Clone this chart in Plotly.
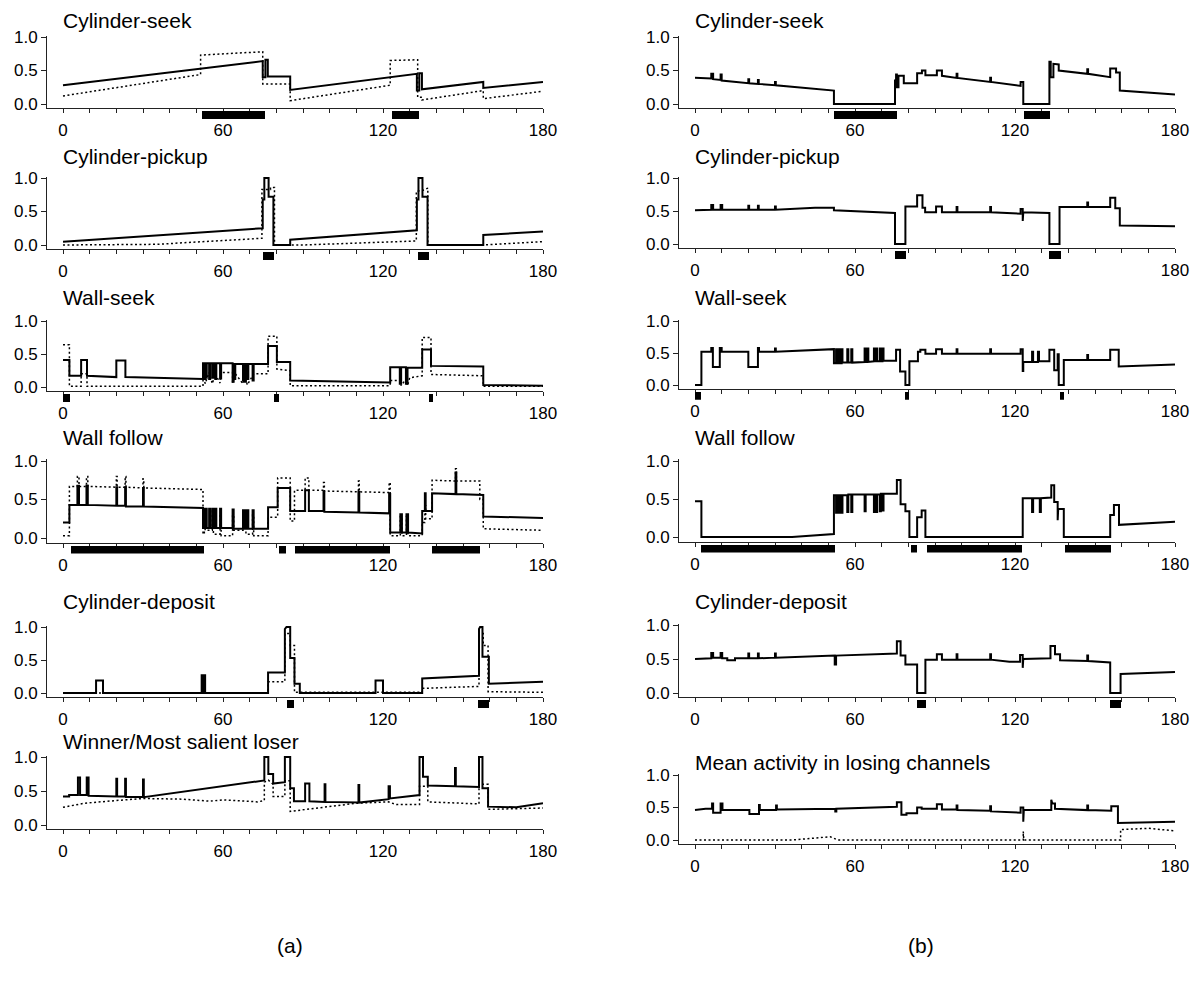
import plotly.graph_objects as go

# ---------------- data (time in s, activity 0..1) ----------------
titles_a = ["Cylinder-seek", "Cylinder-pickup", "Wall-seek", "Wall follow",
            "Cylinder-deposit", "Winner/Most salient loser"]
titles_b = ["Cylinder-seek", "Cylinder-pickup", "Wall-seek", "Wall follow",
            "Cylinder-deposit", "Mean activity in losing channels"]
x_ticks = list(range(0, 181, 10))
x_tick_labels = ["0" if t == 0 else str(t) if t % 60 == 0 else "" for t in x_ticks]
y_ticks = [0.0, 0.5, 1.0]
y_tick_labels = ["0.0", "0.5", "1.0"]

cs_a_solid = [(0,0.28),(74.9,0.64),(74.9,0.40),(75.9,0.40),(75.9,0.66),(76.8,0.66),(76.8,0.41),(85.2,0.41),(85.2,0.21),
              (132.7,0.45),(132.7,0.20),(133.6,0.20),(133.6,0.46),(134.6,0.46),(134.6,0.22),(157.6,0.33),(157.6,0.24),(180,0.33)]
cs_a_dot = [(0,0.12),(51.6,0.44),(51.6,0.73),(74.9,0.78),(74.9,0.30),(85.2,0.30),(85.2,0.05),(122.7,0.28),(122.7,0.65),
            (133,0.66),(133,0.10),(134.6,0.10),(134.6,0.06),(157.6,0.20),(157.6,0.08),(180,0.19)]
cs_a_bars = [(52.3,75.9),(123.4,133.4)]

cp_a_solid = [(0,0.05),(74.9,0.25),(74.9,0.68),(75.5,0.68),(75.5,1.0),(77.1,1.0),(77.1,0.72),(78.9,0.72),(78.9,0.0),
              (85.2,0.0),(85.2,0.08),(132.7,0.22),(132.7,0.68),(133.3,0.68),(133.3,1.0),(134.8,1.0),(134.8,0.72),
              (136.7,0.72),(136.7,0.0),(157.6,0.0),(157.6,0.15),(180,0.20)]
cp_a_dot = [(0,0.0),(35,0.01),(74.6,0.10),(74.6,0.83),(77.8,0.83),(77.8,0.86),(79.3,0.86),(79.3,0.0),(90,0.0),
            (132.5,0.06),(132.5,0.80),(135.5,0.82),(136.8,0.85),(136.8,0.0),(157,0.0),(180,0.05)]
cp_a_bars = [(75.1,79.3),(133.0,137.4)]

ws_a_solid = [(0,0.41),(2.4,0.41),(2.4,0.17),(6.8,0.17),(6.8,0.41),(9,0.41),(9,0.17),(20,0.15),(20,0.40),(23.4,0.40),
              (23.4,0.15),(52.5,0.12),(52.5,0.36),(53.0,0.36),(53.0,0.12),(53.3,0.12),(53.3,0.36),(53.6,0.36),(53.6,0.14),
              (53.9,0.14),(53.9,0.36),(54.8,0.36),(54.8,0.12),(55.2,0.12),(55.2,0.36),(56.0,0.36),(56.0,0.14),(56.4,0.14),
              (56.4,0.36),(57.1,0.36),(57.1,0.12),(57.5,0.12),(57.5,0.36),(58.9,0.36),(58.9,0.13),(59.3,0.13),(59.3,0.36),
              (63.6,0.36),(63.6,0.08),(64.0,0.08),(64.0,0.35),(64.2,0.35),(64.2,0.12),(64.6,0.12),(64.6,0.35),(67.5,0.35),
              (67.5,0.10),(67.9,0.10),(67.9,0.35),(68.2,0.35),(68.2,0.08),(68.6,0.08),(68.6,0.35),(69.1,0.35),(69.1,0.12),
              (69.5,0.12),(69.5,0.35),(71.1,0.35),(71.1,0.10),(71.5,0.10),(71.5,0.35),(76.9,0.35),(76.9,0.62),(80.2,0.62),
              (80.2,0.38),(85.2,0.38),(85.2,0.10),(122.7,0.07),(122.7,0.30),(126.3,0.30),(126.3,0.05),(126.8,0.05),
              (126.8,0.30),(128.6,0.30),(128.6,0.05),(129.2,0.05),(129.2,0.29),(134.7,0.29),(134.7,0.57),(138,0.57),
              (138,0.32),(157.6,0.31),(157.6,0.03),(180,0.02)]
ws_a_dot = [(0,0.64),(2.4,0.64),(2.4,0.01),(6.8,0.01),(6.8,0.2),(9,0.2),(9,0.01),(52.5,0.01),(52.5,0.25),(53.3,0.05),
            (54.8,0.22),(56,0.05),(57.1,0.2),(58.9,0.06),(59.3,0.22),(63.6,0.22),(63.6,0.05),(64.6,0.2),(67.5,0.05),
            (68.2,0.2),(69.1,0.03),(71.5,0.2),(76.9,0.2),(76.9,0.77),(80.2,0.77),(80.2,0.27),(85.2,0.25),(85.2,0.02),
            (122.7,0.02),(122.7,0.1),(126.3,0.1),(126.8,0.02),(128.6,0.12),(129.2,0.02),(130,0.14),(134.7,0.17),
            (134.7,0.75),(138,0.75),(138,0.19),(157.6,0.17),(157.6,0.01),(180,0.01)]
ws_a_bars = [(0.1,2.8),(79.0,80.9),(137.2,138.7)]

wf_a_solid = [(0,0.2),(2.4,0.2),(2.4,0.43),(5.4,0.43),(5.4,0.68),(6.0,0.68),(6.0,0.43),(8.8,0.43),(8.8,0.68),(9.3,0.68),
              (9.3,0.43),(20,0.42),(20,0.66),(20.3,0.66),(20.3,0.42),(23.3,0.42),(23.3,0.66),(23.6,0.66),(23.6,0.41),
              (30,0.41),(30,0.65),(30.3,0.65),(30.3,0.41),(52.5,0.39),(52.5,0.13),(53.0,0.13),(53.0,0.38),(53.3,0.38),
              (53.3,0.13),(53.6,0.13),(53.6,0.38),(53.9,0.38),(53.9,0.13),(54.8,0.13),(54.8,0.38),(55.2,0.38),(55.2,0.13),
              (56.0,0.13),(56.0,0.38),(56.4,0.38),(56.4,0.13),(57.1,0.13),(57.1,0.38),(57.5,0.38),(57.5,0.13),(58.9,0.13),
              (58.9,0.38),(59.3,0.38),(59.3,0.13),(63.6,0.13),(63.6,0.37),(64.0,0.37),(64.0,0.12),(67.5,0.12),(67.5,0.36),
              (67.9,0.36),(67.9,0.12),(68.2,0.12),(68.2,0.36),(68.6,0.36),(68.6,0.12),(69.1,0.12),(69.1,0.36),(69.5,0.36),
              (69.5,0.12),(71.1,0.12),(71.1,0.36),(71.5,0.36),(71.5,0.12),(76.9,0.12),(76.9,0.40),(80.5,0.40),(80.5,0.65),
              (85.2,0.65),(85.2,0.35),(90.8,0.35),(90.8,0.62),(92.2,0.62),(92.2,0.35),(97.7,0.35),(97.7,0.6),(98,0.6),
              (98,0.34),(110.8,0.33),(110.8,0.60),(111.1,0.60),(111.1,0.33),(122.3,0.32),(122.3,0.57),(122.7,0.57),
              (122.7,0.07),(126.5,0.07),(126.5,0.31),(127.1,0.31),(127.1,0.07),(128.8,0.07),(128.8,0.31),(129.4,0.31),
              (129.4,0.07),(134.7,0.06),(134.7,0.35),(135.7,0.35),(135.7,0.58),(136,0.58),(136,0.35),(138.4,0.35),
              (138.4,0.58),(147.2,0.57),(147.2,0.85),(147.5,0.85),(147.5,0.57),(157.6,0.56),(157.6,0.28),(180,0.26)]
wf_a_dot = [(0,0.03),(2.4,0.03),(2.4,0.67),(5.4,0.67),(5.4,0.8),(6.0,0.8),(6.0,0.67),(8.8,0.67),(8.8,0.8),(9.3,0.8),
            (9.3,0.67),(20,0.66),(20,0.8),(20.3,0.8),(20.3,0.66),(23.3,0.66),(23.3,0.8),(23.6,0.8),(23.6,0.66),(30,0.65),
            (30,0.77),(30.3,0.77),(30.3,0.65),(52.5,0.63),(52.5,0.05),(53.0,0.05),(53.0,0.35),(53.3,0.35),(53.3,0.1),
            (56.0,0.1),(56.0,0.35),(56.4,0.35),(56.4,0.05),(58.9,0.05),(58.9,0.3),(59.3,0.3),(59.3,0.03),(63.6,0.03),
            (63.6,0.3),(64.0,0.3),(64.0,0.1),(67.5,0.1),(67.5,0.3),(68.6,0.3),(68.6,0.05),(71.1,0.05),(71.1,0.3),
            (71.5,0.3),(71.5,0.03),(76.9,0.03),(76.9,0.27),(80.5,0.27),(80.5,0.78),(85.2,0.78),(85.2,0.22),(86.8,0.22),
            (86.8,0.62),(90.8,0.62),(90.8,0.78),(92.2,0.78),(92.2,0.62),(97.7,0.62),(97.7,0.72),(98,0.72),(98,0.61),
            (110.8,0.6),(110.8,0.74),(111.1,0.74),(111.1,0.6),(122.3,0.59),(122.3,0.72),(122.7,0.72),(122.7,0.03),
            (126.5,0.03),(126.5,0.28),(127.1,0.28),(127.1,0.03),(128.8,0.03),(128.8,0.28),(129.4,0.28),(129.4,0.03),
            (134.7,0.03),(134.7,0.2),(135.7,0.2),(135.7,0.42),(136,0.42),(136,0.25),(138.4,0.25),(138.4,0.75),
            (147.2,0.74),(147.2,0.9),(147.5,0.9),(147.5,0.74),(156.3,0.74),(156.3,0.5),(157.6,0.5),(157.6,0.12),(180,0.10)]
wf_a_bars = [(3.0,53.0),(81.0,83.5),(87.0,122.7),(138.4,156.2)]

cd_a_solid = [(0,0),(12.4,0),(12.4,0.19),(15,0.19),(15,0),(52,0),(52,0.27),(52.6,0.27),(52.6,0),(52.8,0),(52.8,0.27),
              (53.3,0.27),(53.3,0),(76.9,0),(76.9,0.31),(83.2,0.31),(83.2,0.97),(83.8,1.0),(85.2,1.0),(85.2,0.53),
              (86.8,0.53),(86.8,0.14),(88.8,0.14),(88.8,0),(117.2,0),(117.2,0.19),(120,0.19),(120,0),(134.7,0),
              (134.7,0.22),(156,0.26),(156,0.97),(156.4,1.0),(157.3,1.0),(157.3,0.55),(159.7,0.55),(159.7,0.14),(180,0.17)]
cd_a_dot = [(0,0.0),(76.9,0.0),(76.9,0.17),(83.2,0.17),(83.2,0.9),(85.2,0.9),(85.2,0.72),(86.8,0.72),(86.8,0.01),
            (134.7,0.01),(134.7,0.07),(156,0.1),(156,0.9),(157.6,0.9),(157.6,0.72),(159.4,0.72),(159.4,0.02),(180,0.01)]
cd_a_bars = [(83.9,86.8),(155.7,159.7)]

wl_a_solid = [(0,0.42),(2.3,0.42),(2.3,0.44),(5.6,0.44),(5.6,0.7),(6.4,0.7),(6.4,0.44),(8.9,0.44),(8.9,0.7),(9.6,0.7),
              (9.6,0.43),(20,0.42),(20,0.68),(20.3,0.68),(20.3,0.42),(23.3,0.42),(23.3,0.68),(23.6,0.68),(23.6,0.41),
              (30,0.41),(30,0.67),(30.3,0.67),(30.3,0.41),(75.5,0.655),(75.5,1.0),(77,1.0),(77,0.75),(78.8,0.75),
              (78.8,0.61),(83.2,0.63),(83.2,1.0),(85.2,1.0),(85.2,0.54),(86.6,0.54),(86.6,0.35),(90.8,0.35),(90.8,0.61),
              (92.4,0.61),(92.4,0.35),(98.1,0.34),(98.1,0.6),(98.4,0.6),(98.4,0.34),(110.8,0.33),(110.8,0.59),
              (111.1,0.59),(111.1,0.33),(122.1,0.38),(122.1,0.57),(122.6,0.57),(122.6,0.39),(133.7,0.44),(133.7,1.0),
              (135,1.0),(135,0.71),(136.8,0.71),(136.8,0.58),(147,0.57),(147,0.84),(147.3,0.84),(147.3,0.57),(156,0.56),
              (156,1.0),(157.3,1.0),(157.3,0.54),(159.4,0.54),(159.4,0.27),(170,0.26),(180,0.32)]
wl_a_dot = [(0,0.26),(8,0.32),(20,0.36),(30,0.39),(45,0.38),(55,0.35),(60,0.37),(73,0.34),(75.5,0.36),(75.5,0.63),
            (77,0.66),(78.8,0.6),(78.8,0.42),(83.2,0.42),(83.2,0.65),(85.2,0.65),(85.2,0.2),(110,0.32),(122,0.34),
            (125,0.3),(133.7,0.3),(133.7,0.57),(136.8,0.57),(136.8,0.34),(156,0.31),(156,0.6),(159.4,0.6),
            (159.4,0.23),(180,0.25)]
wl_a_bars = []

cs_b_solid = [(0,0.39),(6.1,0.38),(6.1,0.45),(6.8,0.45),(6.8,0.37),(9.6,0.36),(9.6,0.44),(10,0.44),(10,0.35),(20,0.31),
              (20,0.37),(20.3,0.37),(20.3,0.31),(23.6,0.3),(23.6,0.36),(23.9,0.36),(23.9,0.3),(30,0.28),(30,0.33),
              (30.3,0.33),(30.3,0.28),(52.1,0.2),(52.1,0),(75,0),(75,0.35),(75.4,0.35),(75.4,0.44),(75.7,0.44),
              (75.7,0.25),(76.3,0.25),(76.3,0.42),(78.3,0.42),(78.3,0.31),(83.3,0.31),(83.3,0.46),(85.1,0.46),
              (85.1,0.5),(86.4,0.5),(86.4,0.43),(90.7,0.43),(90.7,0.5),(92.6,0.5),(92.6,0.42),(98.1,0.39),(98.1,0.45),
              (98.4,0.45),(98.4,0.39),(110.7,0.33),(110.7,0.39),(111,0.39),(111,0.33),(122.1,0.27),(122.1,0.33),
              (123.1,0.33),(123.1,0),(132.9,0),(132.9,0.63),(133.4,0.63),(133.4,0.4),(134.4,0.4),(134.4,0.6),
              (136.4,0.59),(136.4,0.5),(147.1,0.45),(147.1,0.52),(147.4,0.52),(147.4,0.45),(155.7,0.4),(155.7,0.53),
              (157.9,0.53),(157.9,0.47),(159.3,0.47),(159.3,0.2),(180,0.14)]
cs_b_bars = [(52.1,75.7),(123.3,133.3)]

cp_b_solid = [(0,0.51),(6.1,0.52),(6.1,0.59),(6.8,0.59),(6.8,0.52),(9.6,0.52),(9.6,0.59),(10.2,0.59),(10.2,0.52),
              (20,0.52),(20,0.58),(20.3,0.58),(20.3,0.52),(23.6,0.52),(23.6,0.58),(23.9,0.58),(23.9,0.52),(30,0.52),
              (30,0.57),(30.3,0.57),(30.3,0.52),(45,0.55),(52.1,0.55),(52.1,0.51),(75,0.47),(75,0),(78.9,0),(78.9,0.57),
              (83.3,0.57),(83.3,0.74),(85.3,0.74),(85.3,0.55),(86.3,0.55),(86.3,0.48),(90.4,0.48),(90.4,0.57),
              (92.6,0.57),(92.6,0.48),(98.1,0.48),(98.1,0.56),(98.4,0.56),(98.4,0.48),(110.7,0.48),(110.7,0.56),
              (111,0.56),(111,0.48),(122.1,0.46),(122.1,0.53),(122.9,0.53),(122.9,0.35),(123.1,0.35),(123.1,0.48),
              (132.9,0.47),(132.9,0),(136.7,0),(136.7,0.56),(147.1,0.56),(147.1,0.63),(147.4,0.63),(147.4,0.56),
              (155.7,0.56),(155.7,0.7),(157.6,0.7),(157.6,0.54),(159.3,0.54),(159.3,0.28),(180,0.27)]
cp_b_bars = [(75.0,79.0),(132.9,137.1)]

ws_b_solid = [(0,0),(2.4,0),(2.4,0.52),(6.1,0.52),(6.1,0.58),(6.7,0.58),(6.7,0.28),(9.3,0.28),(9.3,0.58),(10,0.58),
              (10,0.52),(20,0.52),(20,0.28),(23.6,0.28),(23.6,0.58),(24,0.58),(24,0.52),(30,0.52),(30,0.57),(30.3,0.57),
              (30.3,0.52),(52.1,0.56),(52.1,0.34),(52.9,0.34),(52.9,0.56),(53.2,0.56),(53.2,0.34),(53.6,0.34),
              (53.6,0.56),(53.9,0.56),(53.9,0.34),(54.3,0.34),(54.3,0.56),(54.6,0.56),(54.6,0.34),(55.0,0.34),
              (55.0,0.56),(55.3,0.56),(55.3,0.35),(57.1,0.35),(57.1,0.56),(57.5,0.56),(57.5,0.35),(58.6,0.35),
              (58.6,0.56),(59.0,0.56),(59.0,0.35),(63.6,0.36),(63.6,0.57),(64.0,0.57),(64.0,0.36),(64.6,0.36),
              (64.6,0.57),(65.0,0.57),(65.0,0.36),(67.1,0.37),(67.1,0.57),(67.5,0.57),(67.5,0.37),(67.9,0.37),
              (67.9,0.57),(68.3,0.57),(68.3,0.37),(69.3,0.37),(69.3,0.57),(69.7,0.57),(69.7,0.37),(70.3,0.37),
              (70.3,0.57),(70.7,0.57),(70.7,0.38),(75.4,0.38),(75.4,0.55),(76.9,0.55),(76.9,0.21),(78.9,0.21),
              (78.9,0),(80.4,0),(80.4,0.37),(83.6,0.37),(83.6,0.52),(84.5,0.52),(84.5,0.55),(86.4,0.55),(86.4,0.49),
              (90.4,0.49),(90.4,0.56),(92.6,0.56),(92.6,0.49),(98.1,0.49),(98.1,0.56),(98.4,0.56),(98.4,0.49),
              (110.7,0.49),(110.7,0.56),(111,0.56),(111,0.49),(122.1,0.49),(122.1,0.56),(122.9,0.56),(122.9,0.22),
              (123.1,0.22),(123.1,0.36),(126.4,0.36),(126.4,0.52),(126.8,0.52),(126.8,0.36),(128.6,0.36),(128.6,0.52),
              (129,0.52),(129,0.37),(132.9,0.37),(132.9,0.55),(134.7,0.55),(134.7,0.23),(136,0.23),(136,0.48),
              (136.4,0.48),(136.4,0),(138.3,0),(138.3,0.39),(147.1,0.39),(147.1,0.47),(147.4,0.47),(147.4,0.39),
              (155.7,0.39),(155.7,0.55),(158.9,0.55),(158.9,0.29),(180,0.32)]
ws_b_bars = [(0.0,2.4),(78.9,80.4),(136.9,138.3)]

wf_b_solid = [(0,0.47),(2.4,0.47),(2.4,0),(36.4,0),(52.1,0.04),(52.1,0.55),(52.9,0.55),(52.9,0.32),(53.2,0.32),
              (53.2,0.55),(53.6,0.55),(53.6,0.32),(53.9,0.32),(53.9,0.55),(54.3,0.55),(54.3,0.32),(54.6,0.32),
              (54.6,0.55),(55.0,0.55),(55.0,0.32),(55.3,0.32),(55.3,0.55),(57.1,0.55),(57.1,0.33),(57.5,0.33),
              (57.5,0.56),(58.6,0.56),(58.6,0.33),(59.0,0.33),(59.0,0.56),(63.6,0.56),(63.6,0.34),(64.0,0.34),
              (64.0,0.56),(67.1,0.56),(67.1,0.33),(67.5,0.33),(67.5,0.56),(67.9,0.56),(67.9,0.33),(68.3,0.33),
              (68.3,0.56),(69.3,0.56),(69.3,0.34),(69.7,0.34),(69.7,0.57),(70.3,0.57),(70.3,0.35),(70.7,0.35),
              (70.7,0.57),(75.7,0.57),(75.7,0.75),(77.1,0.75),(77.1,0.43),(78.9,0.43),(78.9,0.34),(80.4,0.34),
              (80.4,0),(83.3,0),(83.3,0.26),(85,0.26),(85,0.35),(86.4,0.35),(86.4,0),(122.9,0),(122.9,0.51),
              (126.4,0.51),(126.4,0.33),(126.8,0.33),(126.8,0.51),(129.3,0.51),(129.3,0.33),(129.7,0.33),(129.7,0.51),
              (133.6,0.52),(133.6,0.68),(134.7,0.68),(134.7,0.46),(136,0.46),(136,0.22),(136.2,0.22),(136.2,0.37),
              (138.3,0.37),(138.3,0),(155.7,0),(155.7,0.29),(157.1,0.29),(157.1,0.42),(159,0.42),(159,0.16),(180,0.2)]
wf_b_bars = [(2.4,52.6),(81.0,83.3),(87.1,122.6),(138.6,156.1)]

cd_b_solid = [(0,0.5),(5,0.51),(6.1,0.51),(6.1,0.59),(6.8,0.59),(6.8,0.52),(9.6,0.52),(9.6,0.59),(10.2,0.59),
              (10.2,0.51),(12.1,0.51),(12.1,0.48),(15,0.48),(15,0.51),(20,0.51),(20,0.58),(20.3,0.58),(20.3,0.51),
              (23.6,0.51),(23.6,0.58),(23.9,0.58),(23.9,0.51),(30,0.52),(30,0.58),(30.3,0.58),(30.3,0.52),(52.1,0.55),
              (52.4,0.55),(52.4,0.42),(52.9,0.42),(52.9,0.55),(75.7,0.58),(75.7,0.76),(77.1,0.76),(77.1,0.55),
              (78.9,0.55),(78.9,0.42),(83.3,0.42),(83.3,0),(86.4,0),(86.4,0.49),(90.7,0.49),(90.7,0.57),(92.6,0.57),
              (92.6,0.49),(98.1,0.49),(98.1,0.57),(98.4,0.57),(98.4,0.49),(110.7,0.49),(110.7,0.57),(111,0.57),
              (111,0.49),(117.9,0.46),(121.9,0.46),(121.9,0.56),(122.9,0.56),(122.9,0.37),(123.1,0.37),(123.1,0.5),
              (133.3,0.51),(133.3,0.69),(135,0.69),(135,0.57),(136.9,0.57),(136.9,0.48),(147.1,0.47),(147.1,0.55),
              (147.4,0.55),(147.4,0.47),(155.7,0.45),(155.7,0),(159.6,0),(159.6,0.28),(180,0.31)]
cd_b_bars = [(83.3,86.7),(155.7,159.7)]

ml_b_solid = [(0,0.46),(4,0.48),(6.4,0.48),(6.4,0.56),(6.8,0.56),(6.8,0.42),(9.6,0.42),(9.6,0.56),(10.3,0.56),
              (10.3,0.46),(20.4,0.46),(20.4,0.4),(24,0.4),(24,0.54),(24.3,0.54),(24.3,0.46),(30.4,0.46),(30.4,0.53),
              (30.7,0.53),(30.7,0.47),(52.6,0.48),(52.6,0.44),(53,0.44),(53,0.48),(75.7,0.51),(75.7,0.58),(77.4,0.58),
              (77.4,0.39),(79.3,0.39),(79.3,0.41),(83.3,0.41),(83.3,0.5),(85,0.5),(85,0.48),(90.7,0.48),(90.7,0.55),
              (92.6,0.55),(92.6,0.47),(98.1,0.47),(98.1,0.53),(98.4,0.53),(98.4,0.46),(110.7,0.45),(110.7,0.52),
              (111,0.52),(111,0.44),(122.1,0.42),(122.1,0.5),(123.1,0.5),(123.1,0.28),(123.3,0.28),(123.3,0.46),
              (133.6,0.46),(133.6,0.62),(134,0.56),(135,0.56),(135,0.48),(147.1,0.46),(147.1,0.53),(147.4,0.53),
              (147.4,0.46),(156.1,0.45),(156.1,0.52),(158.6,0.52),(158.6,0.26),(180,0.28)]
ml_b_dot = [(0,0),(36.4,0),(50.7,0.05),(53.6,0),(123.1,0),(123.1,0.13),(123.3,0.13),(123.3,0),(159.6,0),
            (159.6,0.16),(170,0.18),(180,0.14)]

panels = [
    (titles_a[0], cs_a_solid, cs_a_dot, cs_a_bars),
    (titles_a[1], cp_a_solid, cp_a_dot, cp_a_bars),
    (titles_a[2], ws_a_solid, ws_a_dot, ws_a_bars),
    (titles_a[3], wf_a_solid, wf_a_dot, wf_a_bars),
    (titles_a[4], cd_a_solid, cd_a_dot, cd_a_bars),
    (titles_a[5], wl_a_solid, wl_a_dot, wl_a_bars),
    (titles_b[0], cs_b_solid, None, cs_b_bars),
    (titles_b[1], cp_b_solid, None, cp_b_bars),
    (titles_b[2], ws_b_solid, None, ws_b_bars),
    (titles_b[3], wf_b_solid, None, wf_b_bars),
    (titles_b[4], cd_b_solid, None, cd_b_bars),
    (titles_b[5], ml_b_solid, ml_b_dot, []),
]

# ---------------- layout geometry (window pixels) ----------------
PAGE_W, PAGE_H = 1200, 985
OFF = 8                                   # default body margin of the html page
W, H = PAGE_W - 2 * OFF, PAGE_H - 2 * OFF  # figure size so the page fits the window
X_RANGE = [-6, 180]
Y_RANGE = [-0.06, 1.02]
col_x = [(47, 543), (679, 1175)]
# (pixel of 1.0 tick, pixel of 0.0 tick) per row
rows_px = [
    [(37, 104), (178, 245), (321, 387), (461, 538), (627, 693), (757, 825)],
    [(37, 104), (178, 244), (321, 385), (461, 537), (625, 693), (775, 840)],
]
title_px = [[21, 156, 297, 437, 601, 741], [21, 156, 297, 437, 601, 762]]

FONT = "Liberation Sans, Arial, sans-serif"
fig = go.Figure()
layout = dict(width=W, height=H, margin=dict(l=0, r=0, t=0, b=0, autoexpand=False),
              paper_bgcolor="white", plot_bgcolor="white", showlegend=False,
              font=dict(family=FONT, color="black"), annotations=[])

def px_x(px):
    return (px - OFF) / W

def px_y(px):
    return 1 - (px - OFF) / H

for i, (title, solid, dot, bars) in enumerate(panels):
    col, row = divmod(i, 6)
    p = i + 1
    s = p + 12
    xn = "x" if p == 1 else f"x{p}"
    yn = "y" if p == 1 else f"y{p}"
    ys = f"y{s}"
    p1, p0 = rows_px[col][row]
    k = p0 - p1
    top = p1 - (Y_RANGE[1] - 1) * k
    bot = p0 - Y_RANGE[0] * k
    xd = [px_x(col_x[col][0]), px_x(col_x[col][1])]
    layout["xaxis" if p == 1 else f"xaxis{p}"] = dict(
        domain=xd, range=X_RANGE, anchor=yn, showline=True, linecolor="#222", linewidth=1,
        ticks="outside", ticklen=4, tickwidth=1, tickcolor="#222", automargin=False,
        tickvals=x_ticks, ticktext=x_tick_labels, tickfont=dict(size=17, family=FONT),
        ticklabelstandoff=3, showgrid=False, zeroline=False, fixedrange=True)
    layout["yaxis" if p == 1 else f"yaxis{p}"] = dict(
        domain=[px_y(bot), px_y(top)], range=Y_RANGE, anchor=xn, showline=True, linecolor="#222",
        linewidth=1, ticks="outside", ticklen=5, tickwidth=1, tickcolor="#222", automargin=False,
        tickvals=y_ticks, ticktext=y_tick_labels, tickfont=dict(size=17, family=FONT),
        showgrid=False, zeroline=False, fixedrange=True)
    layout[f"yaxis{s}"] = dict(domain=[px_y(bot + 11), px_y(bot + 3)], range=[0, 1], anchor=xn,
                                visible=False, fixedrange=True, automargin=False)
    if dot:
        fig.add_trace(go.Scatter(x=[a for a, b in dot], y=[b for a, b in dot], mode="lines",
                                 xaxis=xn, yaxis=yn,
                                 line=dict(color="black", width=1.5, dash="2px,2.5px"),
                                 hoverinfo="skip"))
    fig.add_trace(go.Scatter(x=[a for a, b in solid], y=[b for a, b in solid], mode="lines",
                             xaxis=xn, yaxis=yn, line=dict(color="black", width=2),
                             hoverinfo="skip"))
    if bars:
        fig.add_trace(go.Bar(x=[(a + b) / 2 for a, b in bars], width=[b - a for a, b in bars],
                             y=[1] * len(bars), base=0, xaxis=xn, yaxis=ys,
                             marker=dict(color="black", line=dict(width=0)), hoverinfo="skip"))
    layout["annotations"].append(dict(text=title, x=0, xref=xn, xanchor="left", xshift=-2,
                                      y=px_y(title_px[col][row]), yref="paper", yanchor="middle",
                                      showarrow=False, font=dict(size=21, family=FONT)))

for txt, xp in [("(a)", 290), ("(b)", 921)]:
    layout["annotations"].append(dict(text=txt, x=px_x(xp), xref="paper", xanchor="center",
                                      y=px_y(945), yref="paper", yanchor="middle", showarrow=False,
                                      font=dict(size=21, family=FONT)))

layout["bargap"] = 0
fig.update_layout(**layout)
fig.write_html("out.html")
